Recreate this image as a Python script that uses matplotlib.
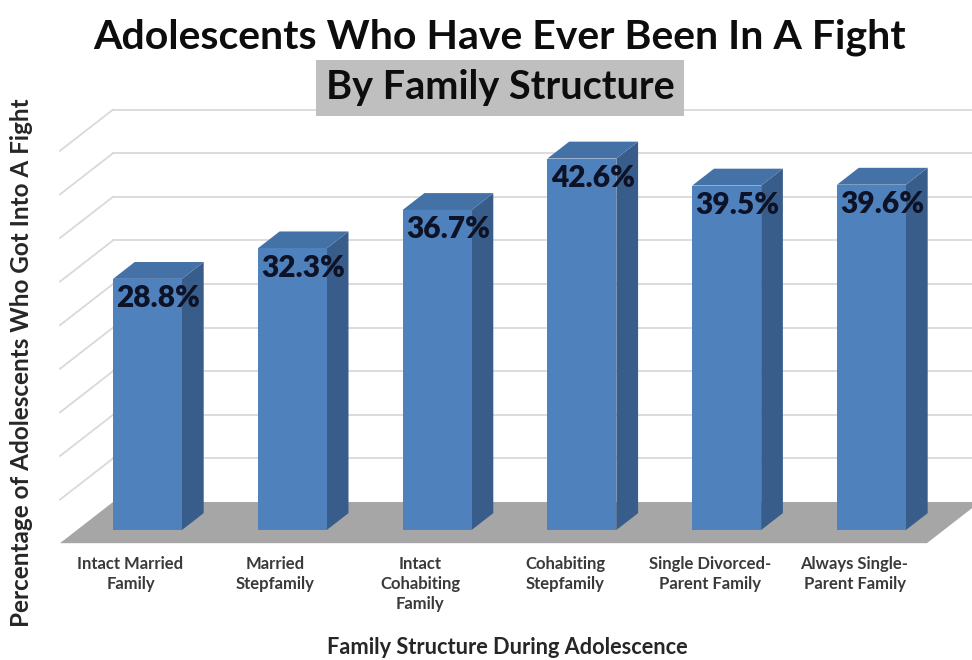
import matplotlib
matplotlib.use("Agg")
from matplotlib import pyplot as plt
from matplotlib.patches import Polygon

plt.rcParams['font.family'] = ['Lato', 'DejaVu Sans']

categories = ["Intact Married\nFamily", "Married\nStepfamily", "Intact\nCohabiting\nFamily",
              "Cohabiting\nStepfamily", "Single Divorced-\nParent Family", "Always Single-\nParent Family"]
values = [28.8, 32.3, 36.7, 42.6, 39.5, 39.6]
grid_ticks = [5, 10, 15, 20, 25, 30, 35, 40, 45]

# oblique projection: depth d moves right and up
DX, DY = 0.366, 4.72
def proj(x, z, d):
    return (x + DX * d, z + DY * d)

bar_w = 0.476
bar_depth = 0.41
floor_front, wall_back = -0.32, 0.68
left, right = -0.487, 5.5

front_c = "#4f81bd"
side_c = "#385d8a"
top_c = "#4471a6"

fig = plt.figure(figsize=(9.72, 6.6), dpi=100)
ax = fig.add_axes([0, 0, 1, 1])
ax.set_xlim(-147.5 / 144.8, (972 - 147.5) / 144.8)
ax.set_ylim((530 - 660) / 8.72, 530 / 8.72)
ax.axis("off")

# back wall and left wall gridlines
for g in grid_ticks:
    bl = proj(left, g, wall_back)
    br = proj(right, g, wall_back)
    fl = proj(left, g, floor_front)
    ax.plot([bl[0], br[0]], [bl[1], br[1]], color="#d9d9d9", lw=1.3, zorder=1)
    ax.plot([fl[0], bl[0]], [fl[1], bl[1]], color="#d9d9d9", lw=1.3, zorder=1)

# floor
floor = [proj(left, 0, floor_front), proj(right, 0, floor_front),
         proj(right, 0, wall_back), proj(left, 0, wall_back)]
ax.add_patch(Polygon(floor, closed=True, facecolor="#a6a6a6", edgecolor="none", zorder=2))

# bars
for i, v in enumerate(values):
    x0, x1 = i - bar_w / 2, i + bar_w / 2
    front = [proj(x0, 0, 0), proj(x1, 0, 0), proj(x1, v, 0), proj(x0, v, 0)]
    side = [proj(x1, 0, 0), proj(x1, 0, bar_depth), proj(x1, v, bar_depth), proj(x1, v, 0)]
    top = [proj(x0, v, 0), proj(x1, v, 0), proj(x1, v, bar_depth), proj(x0, v, bar_depth)]
    ax.add_patch(Polygon(side, closed=True, facecolor=side_c, edgecolor="none", zorder=3))
    ax.add_patch(Polygon(top, closed=True, facecolor=top_c, edgecolor="none", zorder=3))
    ax.add_patch(Polygon(front, closed=True, facecolor=front_c, edgecolor="none", zorder=4))
    ax.text(i + DX * bar_depth / 2, v - 2.2, "%.1f%%" % v, ha="center", va="center",
            fontsize=21.5, fontweight="heavy", color="#0d1226", zorder=5)

# category labels under the floor front edge
for i, c in enumerate(categories):
    lx, ly = proj(i, 0, floor_front)
    ax.text(lx, ly - 1.5, c, ha="center", va="top", fontsize=12, fontweight="bold",
            color="#3a3a3a", linespacing=1.3, zorder=5)

fig.text(500 / 972, 1 - 37 / 660, "Adolescents Who Have Ever Been In A Fight",
         ha="center", va="center", fontsize=29.5, fontweight="bold", color="#0d0d0d")
fig.text(500 / 972, 1 - 88 / 660, "By Family Structure", ha="center", va="center",
         fontsize=28.5, fontweight="bold", color="#0d0d0d",
         bbox=dict(boxstyle="square,pad=0.25", facecolor="#bfbfbf", edgecolor="none"))
fig.text(507 / 972, 1 - 648 / 660, "Family Structure During Adolescence",
         ha="center", va="center", fontsize=15.7, fontweight="bold", color="#262626")
fig.text(22 / 972, 1 - 363 / 660, "Percentage of Adolescents Who Got Into A Fight",
         ha="center", va="center", rotation=90, fontsize=17.5, fontweight="bold", color="#262626")

fig.savefig("out.png", dpi=100)
